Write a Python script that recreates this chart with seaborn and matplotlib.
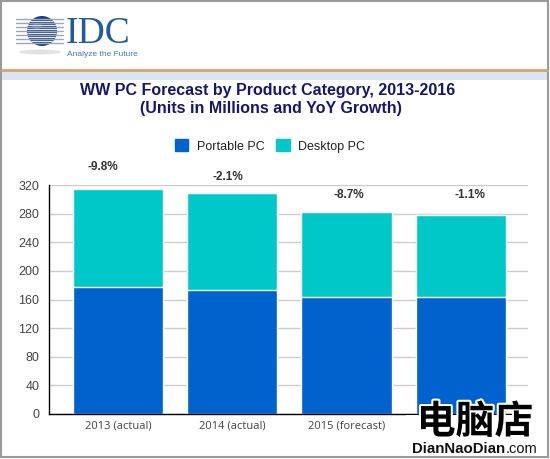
import matplotlib
matplotlib.use("Agg")
import matplotlib.pyplot as plt
import matplotlib.patheffects as pe
from matplotlib.patches import Rectangle, Circle, Ellipse, Patch
import seaborn as sns
import pandas as pd

categories = ['2013 (actual)', '2014 (actual)', '2015 (forecast)', '2016 (forecast)']
portable = [177, 173, 163, 163]
desktop = [137, 136, 119, 115]
growth = ['-9.8%', '-2.1%', '-8.7%', '-1.1%']
yticks = [0, 40, 80, 120, 160, 200, 240, 280, 320]

title1 = 'WW PC Forecast by Product Category, 2013-2016'
title2 = '(Units in Millions and YoY Growth)'

blue = '#0062cc'
cyan = '#00c8c8'
navy = '#16166e'

sns.set_style("white")
plt.rcParams['font.family'] = ['Liberation Sans', 'DejaVu Sans']

df = pd.DataFrame({'category': categories, 'portable': portable, 'desktop': desktop})
df['total'] = df['portable'] + df['desktop']

W, H = 550, 459
fig = plt.figure(figsize=(W / 100, H / 100), dpi=100)

# background layer in pixel coords (header, frame)
bg = fig.add_axes([0, 0, 1, 1], zorder=0)
bg.set_xlim(0, W)
bg.set_ylim(H, 0)
bg.axis('off')
bg.add_patch(Rectangle((2, 71), 545, 9, fc='#dbe5f1', ec='none'))
bg.plot([2, 547], [70, 70], color='#d6a56c', lw=2)
bg.add_patch(Rectangle((1, 1), 547, 456, fill=False, ec='#9a9a9a', lw=1.5))

# IDC logo
bg.add_patch(Ellipse((40, 52), 42, 5, fc='#e2e2e2', ec='none'))
for yy in [19, 23, 27, 31, 35, 39, 43]:
    bg.plot([16, 63], [yy, yy], color='#9aa7bd', lw=1)
globe = Circle((42, 31), 15, fc='#1e3f7c', ec='none')
bg.add_patch(globe)
for yy in [21, 25, 29, 33, 37, 41]:
    ln, = bg.plot([20, 62], [yy, yy], color='#dfe6f2', lw=0.9)
    ln.set_clip_path(globe)
bg.add_patch(Ellipse((37, 26), 10, 6, fc='#6f8fc6', ec='none', alpha=0.6))
bg.text(66, 51, 'IDC', family='Liberation Serif', fontsize=27, color='#1f5b9c',
        ha='left', va='bottom')
bg.text(67, 55, 'Analyze the Future', fontsize=6, color='#3d7cc9', ha='left', va='center')

# main chart
ax = fig.add_axes([49 / W, 1 - 414 / H, 479 / W, 229 / H], zorder=1)
ax.set_facecolor('none')
sns.barplot(data=df, x='category', y='total', color=cyan, saturation=1,
            width=0.79, errorbar=None, ax=ax)
sns.barplot(data=df, x='category', y='portable', color=blue, saturation=1,
            width=0.79, errorbar=None, ax=ax)
ax.set_xlim(-0.604, 3.59)
ax.set_ylim(0, 320)
ax.set_yticks(yticks)
ax.set_xlabel('')
ax.set_ylabel('')
ax.yaxis.grid(True, color='#cccccc', lw=1)
ax.set_axisbelow(True)
for s in ['top', 'right']:
    ax.spines[s].set_visible(False)
for s in ['left', 'bottom']:
    ax.spines[s].set_color('black')
    ax.spines[s].set_linewidth(1)
ax.tick_params(axis='y', length=0, pad=7, labelsize=9, labelcolor='#444444')
ax.tick_params(axis='x', length=0, pad=5, labelsize=8, labelcolor='#444444')
for lab in ax.get_xticklabels():
    lab.set_family('Open Sans')
# last category label sits under the watermark in the original
ax.get_xticklabels()[-1].set_visible(False)

dx = [-15, -4, 2, 9]
dy = [22, 16, 17, 20]
for i, (t, g) in enumerate(zip(df['total'], growth)):
    ax.annotate(g, (i, t), xytext=(dx[i], dy[i]), textcoords='offset pixels',
                ha='center', va='center', fontsize=8.5, fontweight='bold',
                color='#333333', annotation_clip=False)

fig.text(268 / W, 1 - 91 / H, title1, ha='center', va='center', fontsize=11.5,
         fontweight='bold', color=navy)
fig.text(271 / W, 1 - 108 / H, title2, ha='center', va='center', fontsize=11.5,
         fontweight='bold', color=navy)

fig.legend(handles=[Patch(color=blue, label='Portable PC'),
                    Patch(color=cyan, label='Desktop PC')],
           loc='center', bbox_to_anchor=(270 / W, 1 - 146 / H), ncol=2,
           frameon=False, fontsize=9, handlelength=1.1, handleheight=1.1,
           handletextpad=0.7, columnspacing=0.9, borderpad=0, labelcolor='#222222')

# watermark overlay
fg = fig.add_axes([0, 0, 1, 1], zorder=2)
fg.set_xlim(0, W)
fg.set_ylim(H, 0)
fg.axis('off')
fg.add_patch(Rectangle((406, 415), 140, 41, fc='white', ec='none'))
fg.text(475, 422, '电脑店', family=['Noto Sans CJK SC', 'DejaVu Sans'], fontsize=28,
        fontweight='bold', color='black', ha='center', va='center',
        path_effects=[pe.withStroke(linewidth=3, foreground='white')])
fg.text(412, 449, 'DianNaoDian', fontsize=10.8, fontweight='bold', color='#111111',
        ha='left', va='center')
fg.text(506, 449, '.com', fontsize=10.5, color='#111111', ha='left', va='center')

fig.savefig('out.png', dpi=100)
